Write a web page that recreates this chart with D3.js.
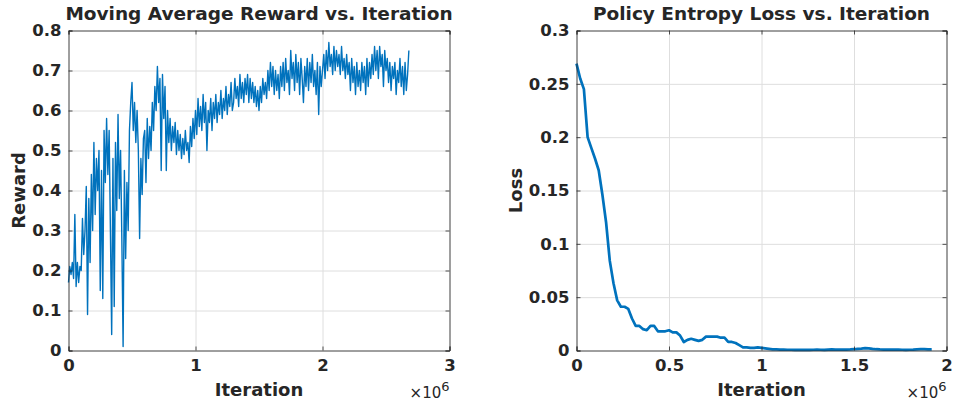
<!DOCTYPE html>
<html>
<head>
<meta charset="utf-8">
<script src="https://cdn.jsdelivr.net/npm/d3@7"></script>
<style>
    body { margin: 0; background: #fff; }
    text { font-family: 'DejaVu Sans', sans-serif; fill: #262626; }
    .grid line { stroke: #dedede; stroke-width: 1; }
    .grid path { display: none; }
    .axis path, .axis line { stroke: #262626; stroke-width: 0.8; }
    .axis text { font-size: 16.5px; font-weight: bold; }
</style>
</head>
<body>
<svg id="chart" width="955" height="404"></svg>
<script>

// Reward, one sample every 0.01 x 10^6 iterations
const rewardStep = 0.01
const reward = [
    0.17,0.21,0.19,0.22,0.18,0.34,0.16,0.22,0.17,0.21,
    0.20,0.33,0.24,0.30,0.41,0.09,0.38,0.22,0.44,0.30,
    0.52,0.34,0.48,0.40,0.50,0.15,0.45,0.13,0.55,0.42,
    0.58,0.44,0.55,0.30,0.04,0.48,0.11,0.52,0.35,0.59,
    0.38,0.50,0.28,0.01,0.45,0.23,0.42,0.30,0.55,0.62,
    0.67,0.55,0.62,0.52,0.60,0.50,0.28,0.48,0.39,0.53,
    0.55,0.42,0.58,0.48,0.56,0.50,0.62,0.55,0.66,0.60,
    0.71,0.62,0.68,0.45,0.69,0.58,0.66,0.45,0.60,0.52,
    0.58,0.50,0.56,0.52,0.57,0.49,0.55,0.50,0.54,0.48,
    0.53,0.49,0.55,0.50,0.52,0.47,0.56,0.51,0.58,0.53,
    0.60,0.54,0.63,0.56,0.61,0.55,0.64,0.57,0.62,0.50,
    0.60,0.57,0.63,0.55,0.62,0.58,0.64,0.57,0.62,0.59,
    0.65,0.58,0.63,0.60,0.66,0.59,0.64,0.61,0.67,0.60,
    0.62,0.68,0.63,0.66,0.61,0.69,0.63,0.67,0.62,0.68,
    0.64,0.69,0.62,0.68,0.63,0.67,0.62,0.66,0.61,0.65,
    0.60,0.66,0.62,0.68,0.64,0.67,0.63,0.70,0.65,0.72,
    0.66,0.71,0.64,0.70,0.65,0.69,0.63,0.71,0.66,0.72,
    0.65,0.73,0.67,0.70,0.64,0.75,0.68,0.72,0.65,0.74,
    0.67,0.72,0.64,0.73,0.68,0.62,0.71,0.66,0.73,0.65,
    0.72,0.67,0.74,0.66,0.70,0.64,0.72,0.59,0.71,0.66,
    0.70,0.74,0.68,0.75,0.70,0.77,0.71,0.74,0.69,0.76,
    0.70,0.75,0.71,0.74,0.69,0.76,0.70,0.73,0.68,0.74,
    0.69,0.72,0.65,0.73,0.67,0.71,0.64,0.72,0.66,0.70,
    0.65,0.72,0.67,0.71,0.64,0.73,0.66,0.72,0.68,0.74,
    0.69,0.76,0.70,0.75,0.68,0.76,0.71,0.74,0.66,0.75,
    0.70,0.73,0.67,0.72,0.65,0.71,0.68,0.72,0.64,0.70,
    0.67,0.73,0.66,0.71,0.64,0.72,0.65,0.69,0.75
]

// Entropy loss, one sample every 0.02 x 10^6 iterations
const lossStep = 0.02
const loss = [
    0.269,0.255,0.245,0.200,0.190,0.180,0.169,0.146,0.120,0.084,
    0.063,0.047,0.041,0.041,0.039,0.030,0.023,0.023,0.020,0.019,
    0.023,0.023,0.018,0.018,0.018,0.019,0.017,0.017,0.014,0.008,
    0.010,0.011,0.010,0.009,0.010,0.013,0.013,0.013,0.013,0.012,
    0.012,0.008,0.008,0.007,0.005,0.003,0.003,0.0025,0.0025,0.003,
    0.0025,0.002,0.0015,0.001,0.001,0.0008,0.0008,0.0007,0.0007,0.0006,
    0.0006,0.0007,0.0006,0.0006,0.0007,0.0008,0.0007,0.0006,0.0008,0.001,
    0.0009,0.0008,0.0008,0.0009,0.001,0.0012,0.0015,0.0018,0.0022,0.002,
    0.0015,0.0012,0.001,0.0009,0.0008,0.0008,0.0009,0.0008,0.0007,0.0006,
    0.0007,0.0008,0.001,0.0012,0.0012,0.001,0.0011
]

// Tick values
const rewardXTicks = [0, 1, 2, 3]
const rewardYTicks = [0, 0.1, 0.2, 0.3, 0.4, 0.5, 0.6, 0.7, 0.8]
const lossXTicks = [0, 0.5, 1, 1.5, 2]
const lossYTicks = [0, 0.05, 0.1, 0.15, 0.2, 0.25, 0.3]

let svg = d3.select('#chart')

function drawPanel(cfg) {

    let g = svg.append('g')
    let h = cfg.bottom - cfg.top,
        w = cfg.right - cfg.left

    let x = d3.scaleLinear().domain(cfg.xDomain).range([cfg.left, cfg.right]),
        y = d3.scaleLinear().domain(cfg.yDomain).range([cfg.bottom, cfg.top])

    // Grid lines
    g.append('g').attr('class', 'grid')
        .attr('transform', 'translate(0,' + cfg.bottom + ')')
        .call(d3.axisBottom(x).tickValues(cfg.xTicks).tickSize(-h).tickFormat(''))
    g.append('g').attr('class', 'grid')
        .attr('transform', 'translate(' + cfg.left + ',0)')
        .call(d3.axisLeft(y).tickValues(cfg.yTicks).tickSize(-w).tickFormat(''))

    // Data line
    let pts = cfg.values.map(function (v, i) { return [i * cfg.step, v] })
    g.append('path')
        .datum(pts)
        .attr('fill', 'none')
        .attr('stroke', '#0072bd')
        .attr('stroke-width', cfg.lineWidth)
        .attr('stroke-linejoin', 'round')
        .attr('d', d3.line().x(function (d) { return x(d[0]) }).y(function (d) { return y(d[1]) }))

    // Axes, ticks pointing in
    let fmt = function (d) { return String(d) }
    g.append('g').attr('class', 'axis')
        .attr('transform', 'translate(0,' + cfg.bottom + ')')
        .call(d3.axisBottom(x).tickValues(cfg.xTicks).tickSize(-4).tickPadding(9).tickFormat(fmt))
    g.append('g').attr('class', 'axis')
        .attr('transform', 'translate(' + cfg.left + ',0)')
        .call(d3.axisLeft(y).tickValues(cfg.yTicks).tickSize(-4).tickPadding(7).tickFormat(fmt))
    g.append('g').attr('class', 'axis')
        .attr('transform', 'translate(0,' + cfg.top + ')')
        .call(d3.axisTop(x).tickValues(cfg.xTicks).tickSize(-4).tickFormat(''))
    g.append('g').attr('class', 'axis')
        .attr('transform', 'translate(' + cfg.right + ',0)')
        .call(d3.axisRight(y).tickValues(cfg.yTicks).tickSize(-4).tickFormat(''))

    // Title and labels
    g.append('text')
        .attr('x', (cfg.left + cfg.right) / 2).attr('y', 20)
        .attr('text-anchor', 'middle')
        .style('font-size', '18.5px').style('font-weight', 'bold')
        .text(cfg.title)

    g.append('text')
        .attr('x', (cfg.left + cfg.right) / 2).attr('y', 396)
        .attr('text-anchor', 'middle')
        .style('font-size', '18px').style('font-weight', 'bold')
        .text('Iteration')

    g.append('text')
        .attr('transform', 'translate(' + cfg.yLabelX + ',' + (cfg.top + cfg.bottom) / 2 + ') rotate(-90)')
        .attr('text-anchor', 'middle')
        .style('font-size', '18px').style('font-weight', 'bold')
        .text(cfg.yLabel)

    // x 10^6 exponent label
    let ex = g.append('text')
        .attr('x', cfg.right).attr('y', 398)
        .attr('text-anchor', 'end')
        .style('font-size', '15px')
    ex.append('tspan').text('\u00d710')
    ex.append('tspan').attr('dy', -7).style('font-size', '13px').text('6')
}

drawPanel({
    left: 68.5, right: 449.5, top: 30.5, bottom: 350.5,
    xDomain: [0, 3], yDomain: [0, 0.8],
    xTicks: rewardXTicks, yTicks: rewardYTicks,
    values: reward, step: rewardStep, lineWidth: 1.4,
    title: 'Moving Average Reward vs. Iteration',
    yLabel: 'Reward', yLabelX: 25
})

drawPanel({
    left: 576.5, right: 946.5, top: 30.5, bottom: 350.5,
    xDomain: [0, 2], yDomain: [0, 0.3],
    xTicks: lossXTicks, yTicks: lossYTicks,
    values: loss, step: lossStep, lineWidth: 2.7,
    title: 'Policy Entropy Loss vs. Iteration',
    yLabel: 'Loss', yLabelX: 522
})

</script>
</body>
</html>
